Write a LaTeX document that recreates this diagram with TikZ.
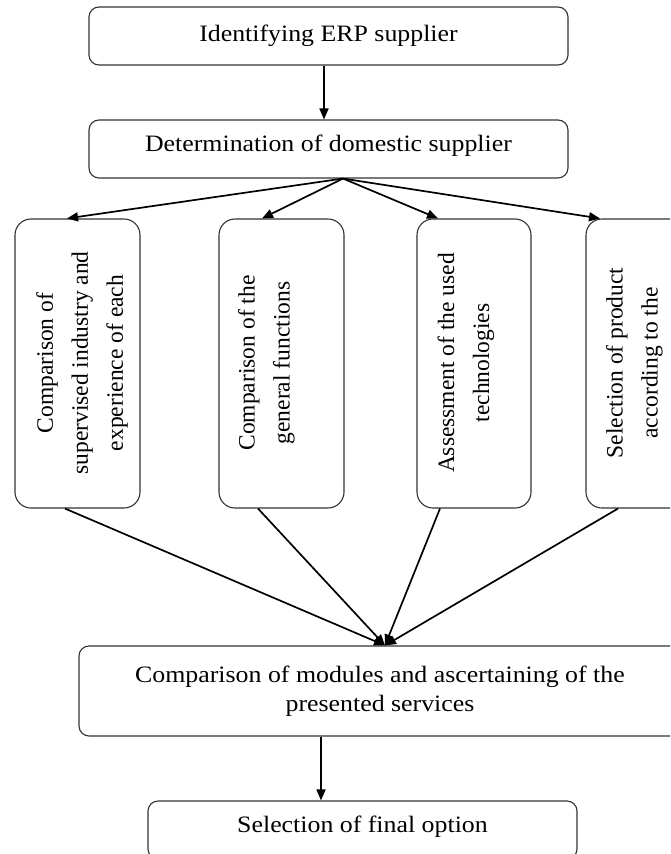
\documentclass[tikz,border=0pt]{standalone}
\usepackage{fontspec}
\setmainfont{Liberation Serif}
\newfontfamily\wideserif{Liberation Serif}[FakeStretch=1.1]
\usetikzlibrary{arrows.meta,calc}
\begin{document}
\begin{tikzpicture}[x=1pt,y=-1pt,
  hbox/.style={draw=black!80, line width=1.1pt, rounded corners=10pt, align=center, inner sep=0pt,
    font=\wideserif\fontsize{23.5}{29}\selectfont},
  vframe/.style={draw=black!80, line width=1.1pt, rounded corners=16pt, inner sep=0pt},
  vtext/.style={rotate=90, align=center, inner sep=0pt, font=\fontsize{23.5}{35}\selectfont},
  arr/.style={line width=1.7pt, -{Triangle[length=11pt,width=9pt]}}]
\useasboundingbox (0,0) rectangle (670,854);
\clip (0,0) rectangle (670,854);
\fill[white] (0,0) rectangle (670,854);

\node[hbox, minimum width=479pt, minimum height=58pt] (b1) at (328.5,36) {Identifying ERP supplier};
\node[hbox, minimum width=479pt, minimum height=58pt, text depth=11pt] (b2) at (328.5,149) {Determination of domestic supplier};

\node[vframe, minimum width=125pt, minimum height=289pt] (v1) at (77.5,363.5) {};
\node[vframe, minimum width=125pt, minimum height=289pt] (v2) at (281.5,363.5) {};
\node[vframe, minimum width=114pt, minimum height=289pt] (v3) at (474,363.5) {};
\node[vframe, minimum width=125pt, minimum height=289pt] (v4) at (648.5,363.5) {};

\node[vtext] (t1) at (82,363) {Comparison of\\supervised industry and\\experience of each};
\node[vtext] (t2) at (266.5,363) {Comparison of the\\general functions};
\node[vtext] (t3) at (466,363) {Assessment of the used\\technologies};
\node[vtext] (t4) at (634.5,363) {Selection of product\\according to the};

\node[hbox, minimum width=602pt, minimum height=90pt] (b3) at (380,691) {Comparison of modules and ascertaining of the\\presented services};
\node[hbox, minimum width=429pt, minimum height=58pt, text depth=11pt] (b4) at (362.5,830) {Selection of final option};

\coordinate (fan) at ($(b2.south)+(14.5,0)$);
\coordinate (join) at ($(b3.north)+(5,0)$);

\draw[arr] ($(b1.south)+(-4.5,0)$) -- ($(b2.north)+(-4.5,0)$);
\draw[arr] (fan) -- ($(v1.north)+(-10.5,0)$);
\draw[arr] (fan) -- ($(v2.north)+(-19.5,0)$);
\draw[arr] (fan) -- ($(v3.north)+(-36,0)$);
\draw[arr] (fan) -- ($(v4.north)+(-48.5,0)$);

\draw[arr] ($(v1.south)+(-12.5,0)$) -- (join);
\draw[arr] ($(v2.south)+(-23.5,0)$) -- (join);
\draw[arr] ($(v3.south)+(-34,0)$) -- (join);
\draw[arr] ($(v4.south)+(-30.5,0)$) -- (join);

\draw[arr] ($(b3.south)+(-59,0)$) -- ($(b4.north)+(-41.5,0)$);
\end{tikzpicture}
\end{document}
